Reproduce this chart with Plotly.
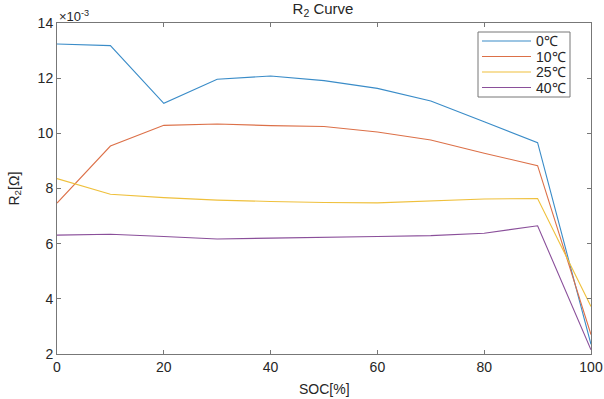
import plotly.graph_objects as go

soc = [0, 10, 20, 30, 40, 50, 60, 70, 80, 90, 100]
# R2 values in units of 1e-3 Ohm
r2_0c = [13.24, 13.18, 11.09, 11.96, 12.08, 11.91, 11.63, 11.17, 10.42, 9.66, 2.35]
r2_10c = [7.47, 9.54, 10.29, 10.34, 10.28, 10.25, 10.05, 9.76, 9.28, 8.83, 2.70]
r2_25c = [8.36, 7.79, 7.67, 7.58, 7.53, 7.49, 7.48, 7.55, 7.62, 7.64, 3.72]
r2_40c = [6.31, 6.34, 6.26, 6.17, 6.20, 6.22, 6.26, 6.29, 6.38, 6.65, 2.15]

names = ["0℃", "10℃", "25℃", "40℃"]
series = [r2_0c, r2_10c, r2_25c, r2_40c]
colors = ["#3a8cc8", "#dc7048", "#efc03c", "#8a4f9a"]

x_ticks = [0, 20, 40, 60, 80, 100]
y_ticks = [2, 4, 6, 8, 10, 12, 14]

FONT = "Liberation Sans, Arial, sans-serif"
AXC = "#777777"
TXT = "#262626"

fig = go.Figure()
for n, s, c in zip(names, series, colors):
    fig.add_trace(go.Scatter(x=soc, y=s, mode="lines", name=n,
                             line=dict(color=c, width=1.1), showlegend=False))

fig.update_layout(
    width=604, height=399, autosize=False,
    margin=dict(l=57, r=13, t=23, b=45),
    paper_bgcolor="white", plot_bgcolor="white",
    font=dict(family=FONT, size=14, color=TXT),
    title=dict(text="R<sub>2</sub> Curve", x=323 / 604, xanchor="center",
               y=1 - 9 / 399, yanchor="middle",
               font=dict(family=FONT, size=15, color=TXT)),
    showlegend=False,
)
fig.update_xaxes(range=[0, 100], tickvals=x_ticks, ticks="inside", ticklen=4,
                 tickcolor=AXC, showline=True, linecolor=AXC, linewidth=1,
                 mirror="ticks", showgrid=False, zeroline=False, automargin=False,
                 tickfont=dict(size=14))
fig.update_yaxes(range=[2, 14], tickvals=y_ticks, ticks="inside", ticklen=4,
                 tickcolor=AXC, showline=True, linecolor=AXC, linewidth=1,
                 mirror="ticks", showgrid=False, zeroline=False, automargin=False,
                 tickfont=dict(size=14))

# Axis titles and exponent label
fig.add_annotation(text="SOC[%]", xref="paper", yref="paper", x=0.5, y=0,
                   xanchor="center", yanchor="middle", yshift=-35, showarrow=False,
                   font=dict(family=FONT, size=14, color=TXT))
fig.add_annotation(text="R<sub>2</sub>[Ω]", xref="paper", yref="paper", x=0, y=0.5,
                   xanchor="center", yanchor="middle", xshift=-43, textangle=-90,
                   showarrow=False, font=dict(family=FONT, size=14, color=TXT))
fig.add_annotation(text="×10<sup>-3</sup>", xref="paper", yref="paper", x=0, y=1,
                   xanchor="left", yanchor="bottom", showarrow=False,
                   font=dict(family=FONT, size=13, color=TXT), yshift=-3)

# Manual legend (box, line samples and labels)
lx0, lx1 = (478 - 57) / 534, (570 - 57) / 534
ly0, ly1 = (354 - 97) / 331, (354 - 32) / 331
fig.add_shape(type="rect", xref="paper", yref="paper", x0=lx0, x1=lx1, y0=ly0, y1=ly1,
              line=dict(color=AXC, width=1), fillcolor="white", layer="above")
entry_px = [41, 56.5, 72, 87.5]
for n, c, py in zip(names, colors, entry_px):
    yy = (354 - py) / 331
    fig.add_shape(type="line", xref="paper", yref="paper",
                  x0=(482 - 57) / 534, x1=(531 - 57) / 534, y0=yy, y1=yy,
                  line=dict(color=c, width=1.1), layer="above")
    fig.add_annotation(text=n, xref="paper", yref="paper", x=(534 - 57) / 534, y=yy,
                       xanchor="left", yanchor="middle", showarrow=False,
                       font=dict(family=FONT, size=14, color=TXT))

fig.write_html(
    "out.html",
    config={"responsive": False, "displayModeBar": False},
    post_script="document.body.style.margin='0px';document.body.style.overflow='hidden';",
)
